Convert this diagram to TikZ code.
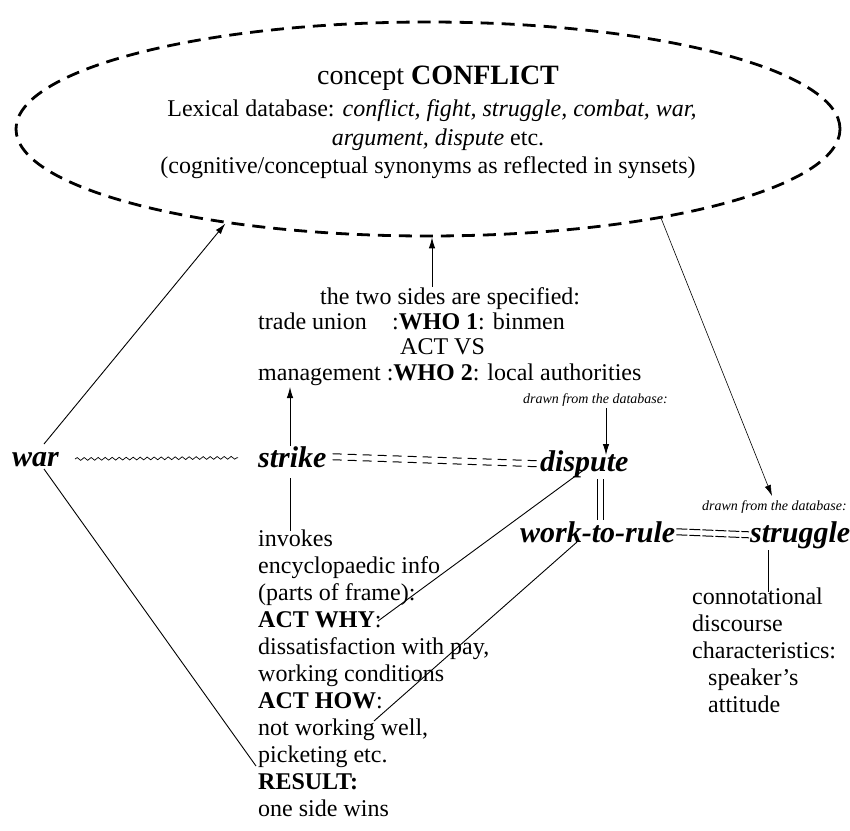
\documentclass[tikz,border=0pt]{standalone}
\usepackage{fontspec}
\setmainfont{Liberation Serif}
\usetikzlibrary{shapes.geometric,arrows.meta,decorations.pathmorphing,calc}
\begin{document}
\begin{tikzpicture}[x=1pt,y=-1pt,
  txt/.style={inner sep=0pt, font=\fontsize{24}{27}\selectfont, anchor=base west},
  ctxt/.style={inner sep=0pt, font=\fontsize{24}{29}\selectfont, anchor=base},
  kw/.style={inner sep=0pt, font=\fontsize{30}{32}\selectfont\bfseries\itshape, anchor=base west},
  small/.style={inner sep=0pt, font=\fontsize{14}{16}\selectfont\itshape, anchor=base west},
  link/.style={line width=0.9pt},
  arr/.style={line width=0.9pt, -{Latex[length=11pt,width=6.5pt]}},
  dbl/.style={line width=0.9pt, -{Latex[length=11pt,width=6.5pt]}, {Latex[length=11pt,width=6.5pt]}-},
]
\useasboundingbox (0,0) rectangle (850,830);
% concept ellipse
\node[draw, ellipse, dash pattern=on 13pt off 8pt, line width=2.8pt,
      minimum width=824pt, minimum height=214pt, inner sep=0pt] (concept) at (428,129) {};
\node[ctxt, font=\fontsize{28}{30}\selectfont] (ctitle) at (438,84) {concept \textbf{CONFLICT}};
\node[ctxt] (cline1) at (432,116) {Lexical database: \textit{conflict, fight, struggle, combat, war,}};
\node[ctxt] (cline2) at (438,145) {\textit{argument, dispute} etc.};
\node[ctxt] (cline3) at (428,173) {(cognitive/conceptual synonyms as reflected in synsets)};

% middle block
\node[txt] (sides) at (320,304) {the two sides are specified:};
\node[txt] (tu) at (258,329) {trade union};
\node[txt] (who1) at (392,329) {:\textbf{WHO 1}: binmen};
\node[txt] (actvs) at (400,354) {ACT VS};
\node[txt] (mgmt) at (258,380) {management :\textbf{WHO 2}: local authorities};
\node[small] (db1) at (523,403) {drawn from the database:};

% keyword row
\node[kw] (war) at (12,466) {war};
\node[kw] (strike) at (258,467) {strike};
\node[kw] (dispute) at (540,471) {dispute};
\node[small] (db2) at (702,510) {drawn from the database:};
\node[kw] (wtr) at (520,542) {work-to-rule};
\node[kw] (struggle) at (750,542) {struggle};

% left block
\node[txt] (invokes) at (258,546) {invokes};
\node[txt] (ency) at (258,573) {encyclopaedic info};
\node[txt] (parts) at (258,600) {(parts of frame):};
\node[txt] (why) at (258,627) {\textbf{ACT WHY}:};
\node[txt] (dissat) at (258,654) {dissatisfaction with pay,};
\node[txt] (workcond) at (258,681) {working conditions};
\node[txt] (how) at (258,708) {\textbf{ACT HOW}:};
\node[txt] (notwork) at (258,735) {not working well,};
\node[txt] (picket) at (258,762) {picketing etc.};
\node[txt] (result) at (258,789) {\textbf{RESULT:}};
\node[txt] (wins) at (258,816) {one side wins};

% right block
\node[txt] (conno) at (692,604) {connotational};
\node[txt] (disc) at (692,631) {discourse};
\node[txt] (charac) at (692,658) {characteristics:};
\node[txt] (speaker) at (708,685) {speaker’s};
\node[txt] (attitude) at (708,712) {attitude};

% connector end points
\coordinate (warTop) at (44,444);
\coordinate (warBot) at (44,469);
\coordinate (cBot) at ($(concept.south)+(4,0)$);
\coordinate (sidesTop) at (432,287);
\coordinate (db1Bot) at (606,408);
\coordinate (dispTop) at (606,455);
\coordinate (strikeTop) at (290,446);
\coordinate (mgmtBot) at (290,387);
\coordinate (strikeBot) at (290,478);
\coordinate (invTop) at (290,531);
\coordinate (dispFoot) at (585,469);
\coordinate (whyEnd) at (378,621);
\coordinate (wtrFoot) at (577,542);
\coordinate (howEnd) at (374,721);
\coordinate (picketEnd) at (256,766);
\coordinate (db2Top) at (772,496);
\coordinate (strugBot) at (768,550);
\coordinate (connoTop) at (768,592);
\coordinate (dblTop) at (600,479);
\coordinate (dblBot) at (600,520);

% connectors
\draw[arr] (warTop) -- (concept.205);
\draw[dbl] (cBot) -- (sidesTop);
\draw[arr] (db1Bot) -- (dispTop);
\draw[arr] (strikeTop) -- (mgmtBot);
\draw[link] (strikeBot) -- (invTop);
\draw[link] (dispFoot) -- (whyEnd);
\draw[link] (wtrFoot) -- (howEnd);
\draw[link] (warBot) -- (picketEnd);
\draw[arr, line width=0.6pt] (concept.339) -- (db2Top);
\draw[link] (strugBot) -- (connoTop);
% wavy synonym link
\draw[line width=0.7pt, decorate, decoration={snake, amplitude=1.4pt, segment length=7pt}]
  (75,459) -- ($(strike.west)+(-20,1)$);
% dashed double links
\draw[line width=1pt, dash pattern=on 9pt off 6pt] ($(strike.east)+(6,-3)$) -- ($(dispute.west)+(-1,-3)$);
\draw[line width=1pt, dash pattern=on 9pt off 6pt] ($(strike.east)+(6,3)$) -- ($(dispute.west)+(-1,3)$);
\draw[line width=1pt, dash pattern=on 11pt off 2pt] ($(wtr.east)+(1,-3)$) -- ($(struggle.west)+(-1,-3)$);
\draw[line width=1pt, dash pattern=on 11pt off 2pt] ($(wtr.east)+(1,3)$) -- ($(struggle.west)+(-1,3)$);
\draw[line width=1pt] ($(dblTop)+(-3,0)$) -- ($(dblBot)+(-3,0)$);
\draw[line width=1pt] ($(dblTop)+(3,0)$) -- ($(dblBot)+(3,0)$);
\end{tikzpicture}
\end{document}
